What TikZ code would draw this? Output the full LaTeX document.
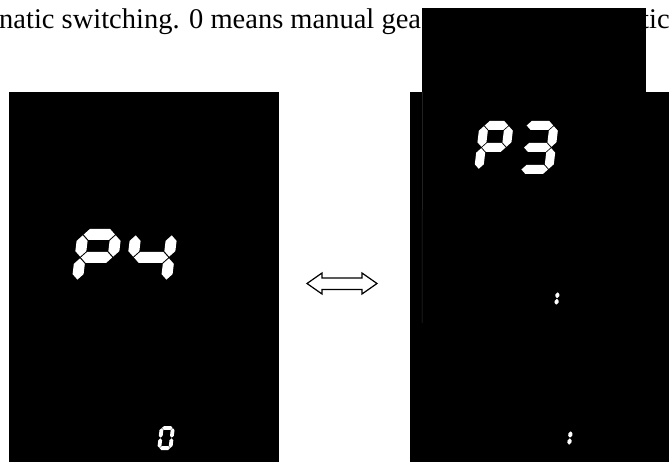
\documentclass[tikz,border=0pt]{standalone}
\usepackage{fontspec}
\setmainfont{Liberation Serif}
\usetikzlibrary{positioning}

\tikzset{
  lcdpanel/.style={fill=black,inner sep=0,outer sep=0},
  lcdseg/.style={fill=white},
  caption/.style={anchor=base west,inner sep=0,font=\fontsize{28.5}{32}\selectfont}
}

\newcommand{\hseg}[3]{\fill[lcdseg] ({#1+\segg},#3) -- ({#1+\segg+\segt/2},{#3-\segt/2}) -- ({#2-\segg-\segt/2},{#3-\segt/2}) -- ({#2-\segg},#3) -- ({#2-\segg-\segt/2},{#3+\segt/2}) -- ({#1+\segg+\segt/2},{#3+\segt/2}) -- cycle;}
\newcommand{\vseg}[3]{\fill[lcdseg] (#1,{#2+\segg}) -- ({#1+\segt/2},{#2+\segg+\segt/2}) -- ({#1+\segt/2},{#3-\segg-\segt/2}) -- (#1,{#3-\segg}) -- ({#1-\segt/2},{#3-\segg-\segt/2}) -- ({#1-\segt/2},{#2+\segg+\segt/2}) -- cycle;}
% x, y, width, height, thickness, segments (1=a ... 7=g)
\newcommand{\lcddigit}[6]{%
  \begin{scope}[shift={(#1,#2)},xslant=0.12]
    \pgfmathsetmacro\segt{#5}
    \pgfmathsetmacro\segg{0.08*#5}
    \pgfmathsetmacro\segxl{#5/2}
    \pgfmathsetmacro\segxr{#3-#5/2}
    \pgfmathsetmacro\segyt{#5/2}
    \pgfmathsetmacro\segym{#4/2}
    \pgfmathsetmacro\segyb{#4-#5/2}
    \foreach \s in {#6}{%
      \ifcase\s\or
        \hseg{\segxl}{\segxr}{\segyt}\or
        \vseg{\segxr}{\segyt}{\segym}\or
        \vseg{\segxr}{\segym}{\segyb}\or
        \hseg{\segxl}{\segxr}{\segyb}\or
        \vseg{\segxl}{\segym}{\segyb}\or
        \vseg{\segxl}{\segyt}{\segym}\or
        \hseg{\segxl}{\segxr}{\segym}\fi}
  \end{scope}}

\begin{document}
\begin{tikzpicture}[x=1pt,y=-1pt]
  \useasboundingbox (0,0) rectangle (669,462);
  \fill[white] (0,0) rectangle (669,462);
  \clip (0,0) rectangle (669,462);

  \node[caption] (captext) at (-1,29) {natic switching. 0 means manual gea};
  \node[caption] (captail) at (641,29) {tic};

  \node[lcdpanel,minimum width=270,minimum height=370,anchor=north west] (lpanel) at (9,92) {};
  \node[lcdpanel,minimum width=259,minimum height=370,anchor=north west] (rpanel) at (410,92) {};
  \node[lcdpanel,minimum width=224,minimum height=315,anchor=north west] (rcover) at (422,8) {};
  \draw[black!80!white,line width=0.5] (422.5,92) -- (rcover.south west);

  % left display: P4 / 0
  \lcddigit{78}{229}{44}{57}{11}{1,2,5,6,7}
  \lcddigit{131}{229}{47}{57}{11}{2,3,6,7}
  \lcddigit{160}{426}{15}{24}{3.8}{1,2,3,4,5,6}

  % right display: P3 / 1 / 1
  \lcddigit{480}{121}{34}{53}{9}{1,2,5,6,7}
  \lcddigit{522}{121}{37}{53}{9}{1,2,3,4,7}
  \lcddigit{545}{290}{15}{17}{4}{2,3}
  \lcddigit{558}{429}{15}{18}{4}{2,3}

  \draw[line width=1.2,line join=miter] (307,283.5) -- (322,273) -- (322,278) -- (362,278) -- (362,273)
    -- (377,283.5) -- (362,294) -- (362,289.5) -- (322,289.5) -- (322,294) -- cycle;
\end{tikzpicture}
\end{document}
